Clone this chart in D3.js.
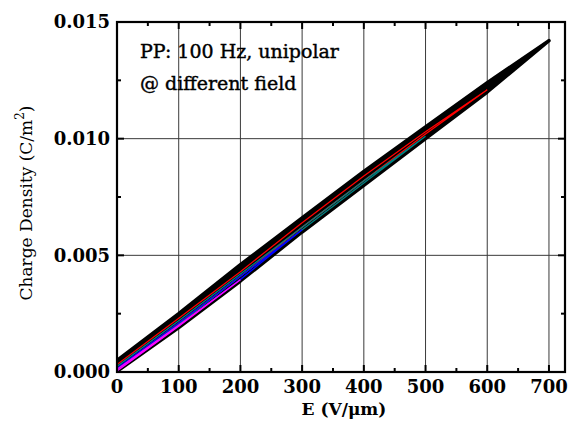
<!DOCTYPE html>
<html>
<head>
<meta charset="utf-8">
<script src="https://cdn.jsdelivr.net/npm/d3@7"></script>
<style>
  html, body { margin: 0; padding: 0; background: #fff; }
  svg { display: block; }
</style>
</head>
<body>
<svg id="chart" width="570" height="425"></svg>
<script>
// ---------------- data ----------------
const xTicks = [0, 100, 200, 300, 400, 500, 600, 700];
const yTicks = [0.000, 0.005, 0.010, 0.015];
const yTickLabels = ["0.000", "0.005", "0.010", "0.015"];
const xTitle = "E (V/\u03bcm)";
const yTitle = "Charge Density (C/m";
const noteLines = ["PP: 100 Hz, unipolar", "@ different field"];

// loop at 700 V/um (black)
const eBlack = [0, 100, 200, 300, 400, 500, 600, 700];
const blackRise = [0.00003, 0.0019, 0.0039, 0.0060, 0.0080, 0.0100, 0.0120, 0.0142];
const blackFall = [0.00050, 0.0025, 0.0046, 0.0066, 0.0086, 0.0105, 0.0124, 0.0142];
// loop at 600 V/um (red)
const eRed = [0, 100, 200, 300, 400, 500, 600];
const redRise = [0.00012, 0.0021, 0.0041, 0.0062, 0.0082, 0.0102, 0.0121];
const redFall = [0.00032, 0.0023, 0.0043, 0.0064, 0.0084, 0.0103, 0.0121];
// loop at 500 V/um (teal)
const eTeal = [0, 100, 200, 300, 400, 500];
const tealRise = [0.00010, 0.00205, 0.0041, 0.0061, 0.0081, 0.0101];
const tealFall = [0.00024, 0.0022, 0.0042, 0.0062, 0.0082, 0.0101];
// loop at 300 V/um (blue)
const eBlue = [0, 100, 200, 300];
const blueRise = [0.00006, 0.00197, 0.00397, 0.0061];
const blueFall = [0.00016, 0.0021, 0.0041, 0.0061];
// loop at 200 V/um (magenta)
const eMag = [0, 100, 200];
const magRise = [0.00004, 0.00196, 0.00395];
const magFall = [0.00012, 0.0020, 0.00395];

// ---------------- drawing ----------------
const svg = d3.select("#chart");
const L = 117, R = 565, T = 22, B = 372;
const x = d3.scaleLinear().domain([0, 726]).range([L, R]);
const y = d3.scaleLinear().domain([0, 0.015]).range([B, T]);

svg.append("rect").attr("width", 570).attr("height", 425).attr("fill", "#fff");

svg.append("clipPath").attr("id", "clip")
  .append("rect").attr("x", L).attr("y", T).attr("width", R - L).attr("height", B - T);

// grid
const grid = svg.append("g");
grid.selectAll("line.vx").data(xTicks.filter(d => d > 0)).join("line")
  .attr("x1", d => x(d)).attr("x2", d => x(d)).attr("y1", T).attr("y2", B)
  .attr("stroke", "#3a3a3a").attr("stroke-width", 1);
grid.selectAll("line.hy").data(yTicks.filter(d => d > 0 && d < 0.015)).join("line")
  .attr("x1", L).attr("x2", R).attr("y1", d => y(d)).attr("y2", d => y(d))
  .attr("stroke", "#3a3a3a").attr("stroke-width", 1);

const plot = svg.append("g").attr("clip-path", "url(#clip)");

function loopPts(e, rise, fall) {
  const up = e.map((v, i) => [v, rise[i]]);
  const down = e.map((v, i) => [v, fall[i]]).reverse();
  return up.concat(down);
}
const line = d3.line().x(d => x(d[0])).y(d => y(d[1]));
const area = d3.area().x(d => x(d)).y0((d, i) => y(blackRise[i])).y1((d, i) => y(blackFall[i]));

// black band
plot.append("path").datum(eBlack).attr("d", area).attr("fill", "#000");
plot.append("path").datum(loopPts(eBlack, blackRise, blackFall)).attr("d", line)
  .attr("fill", "none").attr("stroke", "#000").attr("stroke-width", 3.5).attr("stroke-linejoin", "round");

const colored = [
  { e: eRed, r: redRise, f: redFall, c: "#ff0000" },
  { e: eTeal, r: tealRise, f: tealFall, c: "#008080" },
  { e: eBlue, r: blueRise, f: blueFall, c: "#0000ff" },
  { e: eMag, r: magRise, f: magFall, c: "#ff00ff" }
];
colored.forEach(s => {
  plot.append("path").datum(loopPts(s.e, s.r, s.f)).attr("d", line)
    .attr("fill", "none").attr("stroke", s.c).attr("stroke-width", 1.3);
});

// frame
svg.append("rect").attr("x", L).attr("y", T).attr("width", R - L).attr("height", B - T)
  .attr("fill", "none").attr("stroke", "#000").attr("stroke-width", 2.2);

// ticks (inward) on all four sides
const xMinor = d3.range(50, 726, 100);
const yMinor = [0.0025, 0.0075, 0.0125];
const tk = svg.append("g").attr("stroke", "#000").attr("stroke-width", 2);
xTicks.forEach(v => {
  tk.append("line").attr("x1", x(v)).attr("x2", x(v)).attr("y1", B).attr("y2", B - 7);
  tk.append("line").attr("x1", x(v)).attr("x2", x(v)).attr("y1", T).attr("y2", T + 7);
});
xMinor.forEach(v => {
  tk.append("line").attr("x1", x(v)).attr("x2", x(v)).attr("y1", B).attr("y2", B - 4);
  tk.append("line").attr("x1", x(v)).attr("x2", x(v)).attr("y1", T).attr("y2", T + 4);
});
yTicks.forEach(v => {
  tk.append("line").attr("x1", L).attr("x2", L + 7).attr("y1", y(v)).attr("y2", y(v));
  tk.append("line").attr("x1", R).attr("x2", R - 7).attr("y1", y(v)).attr("y2", y(v));
});
yMinor.forEach(v => {
  tk.append("line").attr("x1", L).attr("x2", L + 4).attr("y1", y(v)).attr("y2", y(v));
  tk.append("line").attr("x1", R).attr("x2", R - 4).attr("y1", y(v)).attr("y2", y(v));
});

const font = "'DejaVu Serif', 'Liberation Serif', serif";
// tick labels
svg.append("g").selectAll("text").data(xTicks).join("text")
  .attr("x", d => x(d)).attr("y", 393).attr("text-anchor", "middle")
  .attr("font-family", font).attr("font-weight", "bold").attr("font-size", 18)
  .text(d => d);
svg.append("g").selectAll("text").data(yTicks).join("text")
  .attr("x", 110).attr("y", d => y(d)).attr("dy", "0.36em").attr("text-anchor", "end")
  .attr("font-family", font).attr("font-weight", "bold").attr("font-size", 18)
  .text((d, i) => yTickLabels[i]);

// axis titles
svg.append("text").attr("x", 344).attr("y", 415).attr("text-anchor", "middle")
  .attr("font-family", font).attr("font-weight", "bold").attr("font-size", 17)
  .text(xTitle);
const yt = svg.append("text").attr("transform", "translate(32,203) rotate(-90)")
  .attr("text-anchor", "middle").attr("font-family", font).attr("font-size", 17);
yt.append("tspan").text(yTitle);
yt.append("tspan").attr("dy", -8).attr("font-size", 12).text("2");
yt.append("tspan").attr("dy", 8).text(")");

// annotation
noteLines.forEach((t, i) => {
  svg.append("text").attr("x", 140).attr("y", 58 + i * 32)
    .attr("font-family", font).attr("font-size", 19)
    .attr("stroke", "#000").attr("stroke-width", 0.4)
    .text(t);
});
</script>
</body>
</html>
